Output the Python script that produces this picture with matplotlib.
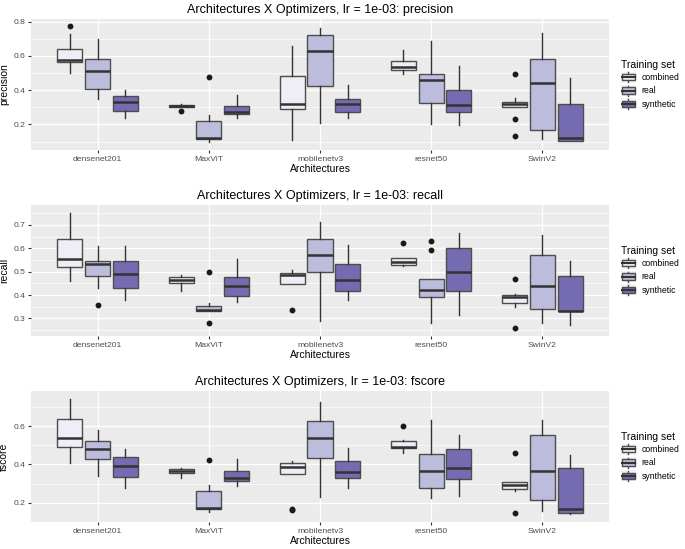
import matplotlib
matplotlib.use("Agg")
import matplotlib.pyplot as plt
from matplotlib.patches import Rectangle
from matplotlib.lines import Line2D
from matplotlib.legend_handler import HandlerBase
from matplotlib.ticker import MultipleLocator

plt.rcParams['font.family'] = ['Liberation Sans', 'DejaVu Sans']

# categories and groups
archs = ['densenet201', 'MaxViT', 'mobilenetv3', 'resnet50', 'SwinV2']
sets = ['combined', 'real', 'synthetic']
set_colors = ['#EFEDF5', '#BCBDDC', '#756BB1']

# box stats: (whisker low, q1, median, q3, whisker high) per architecture
precision_combined = [(0.502, 0.564, 0.577, 0.641, 0.728), (0.301, 0.301, 0.306, 0.314, 0.320),
                      (0.109, 0.293, 0.318, 0.485, 0.657), (0.492, 0.519, 0.535, 0.570, 0.636),
                      (0.303, 0.303, 0.318, 0.332, 0.357)]
precision_real = [(0.347, 0.405, 0.512, 0.583, 0.699), (0.100, 0.115, 0.121, 0.221, 0.254),
                  (0.206, 0.425, 0.628, 0.719, 0.763), (0.202, 0.326, 0.457, 0.496, 0.684),
                  (0.113, 0.167, 0.442, 0.579, 0.734)]
precision_synthetic = [(0.235, 0.276, 0.332, 0.367, 0.403), (0.239, 0.262, 0.270, 0.306, 0.370),
                       (0.235, 0.274, 0.322, 0.351, 0.428), (0.196, 0.270, 0.316, 0.403, 0.539),
                       (0.103, 0.103, 0.119, 0.322, 0.473)]
precision_combined_out = [[0.773], [0.277], [], [], [0.496, 0.229, 0.132]]
precision_real_out = [[], [0.477], [], [], []]
precision_synthetic_out = [[], [], [], [], []]

recall_combined = [(0.459, 0.520, 0.555, 0.639, 0.750), (0.416, 0.452, 0.466, 0.476, 0.484),
                   (0.448, 0.448, 0.487, 0.494, 0.508), (0.523, 0.527, 0.540, 0.558, 0.558),
                   (0.350, 0.367, 0.392, 0.402, 0.405)]
recall_real = [(0.430, 0.483, 0.534, 0.544, 0.611), (0.333, 0.333, 0.335, 0.352, 0.367),
               (0.289, 0.499, 0.572, 0.640, 0.711), (0.279, 0.391, 0.423, 0.469, 0.469),
               (0.279, 0.341, 0.440, 0.570, 0.657)]
recall_synthetic = [(0.378, 0.430, 0.490, 0.544, 0.611), (0.370, 0.394, 0.440, 0.477, 0.555),
                    (0.381, 0.416, 0.463, 0.534, 0.612), (0.313, 0.416, 0.497, 0.600, 0.667),
                    (0.270, 0.334, 0.334, 0.483, 0.547)]
recall_combined_out = [[], [], [0.335], [0.622], [0.469, 0.260]]
recall_real_out = [[0.357], [0.500, 0.279], [], [0.633, 0.591], []]
recall_synthetic_out = [[], [], [], [], []]

fscore_combined = [(0.410, 0.491, 0.539, 0.638, 0.742), (0.330, 0.356, 0.366, 0.375, 0.384),
                   (0.352, 0.352, 0.387, 0.408, 0.418), (0.460, 0.486, 0.491, 0.522, 0.529),
                   (0.261, 0.274, 0.295, 0.307, 0.309)]
fscore_real = [(0.340, 0.430, 0.482, 0.520, 0.581), (0.153, 0.169, 0.174, 0.261, 0.292),
               (0.231, 0.434, 0.539, 0.624, 0.725), (0.228, 0.278, 0.365, 0.453, 0.629),
               (0.158, 0.214, 0.365, 0.552, 0.629)]
fscore_synthetic = [(0.278, 0.335, 0.390, 0.437, 0.479), (0.288, 0.313, 0.330, 0.365, 0.430),
                    (0.280, 0.332, 0.361, 0.418, 0.487), (0.236, 0.323, 0.382, 0.479, 0.552),
                    (0.145, 0.150, 0.167, 0.382, 0.448)]
fscore_combined_out = [[], [], [0.171, 0.162], [0.600], [0.461, 0.148]]
fscore_real_out = [[], [0.425], [], [], []]
fscore_synthetic_out = [[], [], [], [], []]

metrics = ['precision', 'recall', 'fscore']
metric_stats = {
    'precision': ([precision_combined, precision_real, precision_synthetic],
                  [precision_combined_out, precision_real_out, precision_synthetic_out]),
    'recall': ([recall_combined, recall_real, recall_synthetic],
               [recall_combined_out, recall_real_out, recall_synthetic_out]),
    'fscore': ([fscore_combined, fscore_real, fscore_synthetic],
               [fscore_combined_out, fscore_real_out, fscore_synthetic_out]),
}
ylims = {'precision': (0.051, 0.815), 'recall': (0.225, 0.785), 'fscore': (0.101, 0.782)}
ysteps = {'precision': 0.2, 'recall': 0.1, 'fscore': 0.2}

# axes rectangles in pixels (left, top, right, bottom)
W, H = 685, 549
panels = [(31, 19, 609, 150), (31, 205, 609, 336), (31, 391, 609, 522)]

edge = '#4d4d4d'


class BoxKey(HandlerBase):
    # small boxplot glyph on a grey key, like ggplot's legend keys
    def create_artists(self, legend, orig, xd, yd, w, h, fs, trans):
        fc = orig.get_facecolor()
        cx = -xd + w / 2
        y0 = -yd
        bg = Rectangle((-xd, y0), w, h, facecolor='#F2F2F2', edgecolor='none', transform=trans)
        wh1 = Line2D([cx, cx], [y0 + h * 0.05, y0 + h * 0.22], color=edge, lw=1.0, transform=trans)
        wh2 = Line2D([cx, cx], [y0 + h * 0.78, y0 + h * 0.95], color=edge, lw=1.0, transform=trans)
        box = Rectangle((-xd + w * 0.08, y0 + h * 0.22), w * 0.84, h * 0.56, facecolor=fc,
                        edgecolor=edge, lw=1.0, transform=trans)
        med = Line2D([-xd + w * 0.08, -xd + w * 0.92], [y0 + h / 2, y0 + h / 2],
                     color='#333333', lw=1.5, transform=trans)
        return [bg, wh1, wh2, box, med]


fig = plt.figure(figsize=(W / 100, H / 100), dpi=100)

for (x0, y0, x1, y1), metric in zip(panels, metrics):
    ax = fig.add_axes([x0 / W, 1 - y1 / H, (x1 - x0) / W, (y1 - y0) / H])
    ax.set_facecolor('#EBEBEB')
    boxes, outs = metric_stats[metric]
    handles = []
    for k, (st, out, col) in enumerate(zip(boxes, outs, set_colors)):
        stats = []
        for s, o in zip(st, out):
            stats.append(dict(whislo=s[0], q1=s[1], med=s[2], q3=s[3], whishi=s[4], fliers=o))
        pos = [i + (k - 1) * 0.25 for i in range(len(archs))]
        ax.bxp(stats, positions=pos, widths=0.225, patch_artist=True, showcaps=False,
               boxprops=dict(facecolor=col, edgecolor=edge, lw=1.0),
               whiskerprops=dict(color='#333333', lw=1.0),
               medianprops=dict(color='#333333', lw=1.8),
               flierprops=dict(marker='o', markerfacecolor='#1a1a1a', markeredgecolor='#1a1a1a',
                               markersize=3.2),
               zorder=3)
        handles.append(Rectangle((0, 0), 1, 1, facecolor=col, edgecolor=edge, label=sets[k]))

    ax.set_xlim(-0.6, 4.6)
    ax.set_ylim(*ylims[metric])
    ax.set_xticks(range(len(archs)))
    ax.set_xticklabels(archs)
    ax.yaxis.set_major_locator(MultipleLocator(ysteps[metric]))
    ax.yaxis.set_minor_locator(MultipleLocator(ysteps[metric] / 2))
    ax.grid(which='major', color='white', lw=1.0, zorder=0)
    ax.grid(which='minor', axis='y', color='white', lw=0.5, zorder=0)
    ax.set_axisbelow(True)
    for sp in ax.spines.values():
        sp.set_visible(False)
    ax.tick_params(which='major', length=2.5, width=0.8, color='#333333', labelsize=6.1,
                   labelcolor='#4d4d4d', pad=1.5)
    ax.tick_params(which='minor', length=0)
    ax.set_xlabel('Architectures', fontsize=7.5, labelpad=1)
    ax.set_ylabel(metric, fontsize=7.5, labelpad=3)
    ax.set_title('Architectures X Optimizers, lr = 1e-03: ' + metric, fontsize=9, pad=4.5)

    leg = ax.legend(handles=handles, title='Training set', loc='center left',
                    bbox_to_anchor=(1.015, 0.5), frameon=False, fontsize=6.2,
                    title_fontsize=7.5, handler_map={Rectangle: BoxKey()},
                    handlelength=1.7, handleheight=1.6, handletextpad=0.7,
                    labelspacing=0.25, borderaxespad=0)
    leg._legend_box.align = 'left'

fig.savefig('out.png', dpi=100)
